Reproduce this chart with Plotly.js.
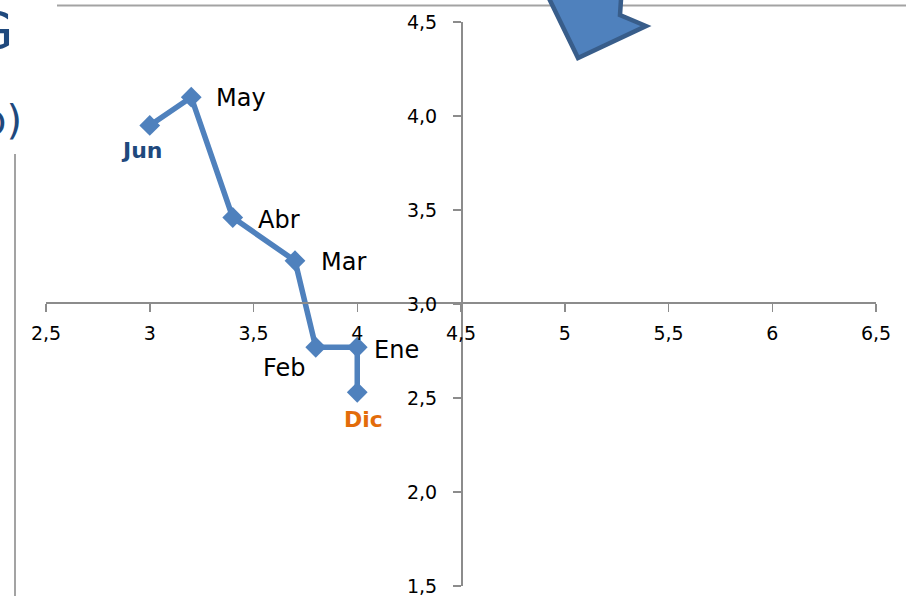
<!DOCTYPE html>
<html>
<head>
<meta charset="utf-8">
<script src="https://cdn.plot.ly/plotly-3.0.1.min.js"></script>
<style>html,body{margin:0;padding:0;background:#fff;overflow:hidden}</style>
</head>
<body>
<div id="chart" style="width:906px;height:596px"></div>
<script>
// Monthly path, December through June
const months = ['Dic', 'Ene', 'Feb', 'Mar', 'Abr', 'May', 'Jun'];
const xValues = [4, 4, 3.8, 3.7, 3.4, 3.2, 3];
const yValues = [2.53, 2.77, 2.77, 3.23, 3.46, 4.1, 3.95];

// Label offsets from each point, in pixels
const labelDx = [6, 39, -31, 48, 46, 50, -8];
const labelDy = [27, 3, 21, 1, 2, 1, 25];
const labelColors = ['#e36c0a', '#000', '#000', '#000', '#000', '#000', '#1f497d'];
const labelBold = [true, false, false, false, false, false, true];

const xTicks = [2.5, 3, 3.5, 4, 4.5, 5, 5.5, 6, 6.5];
const xTickText = ['2,5', '3', '3,5', '4', '4,5', '5', '5,5', '6', '6,5'];
const yTicks = [1.5, 2, 2.5, 3, 3.5, 4, 4.5];
const yTickText = ['1,5', '2,0', '2,5', '3,0', '3,5', '4,0', '4,5'];

// Plot box in page pixels
const box = {l: 46, r: 876, t: 22, b: 586};
const px = v => (v - box.l) / (box.r - box.l);
const py = v => (box.b - v) / (box.b - box.t);

// Surrounding slide furniture: rules, arrow, cropped heading text
const ruleColor = '#a3a3a3';
const arrowOutline = [[542, -16], [578, 58], [646, 26], [620, 15], [622, -16]];
const arrowPath = 'M' + arrowOutline.map(p => px(p[0]) + ',' + py(p[1])).join('L') + 'Z';

const font = 'DejaVu Sans, Verdana, sans-serif';
const axisBase = {
  showgrid: false, zeroline: false, showline: true,
  linecolor: '#8c8c8c', linewidth: 1.5,
  ticks: 'outside', ticklen: 8, tickwidth: 1.5, tickcolor: '#8c8c8c',
  tickmode: 'array', anchor: 'free',
  ticklabeloverflow: 'allow',
  tickfont: {family: font, size: 19, color: '#000'}
};

const annotations = months.map((m, i) => ({
  x: xValues[i], y: yValues[i], xref: 'x', yref: 'y',
  text: labelBold[i] ? '<b>' + m + '</b>' : m,
  showarrow: false, xanchor: 'center', yanchor: 'middle',
  xshift: labelDx[i], yshift: -labelDy[i],
  font: {family: font, size: labelBold[i] ? 22 : 24, color: labelColors[i]}
}));
annotations.push(
  {x: px(15), y: py(31), xref: 'paper', yref: 'paper', text: 'G', showarrow: false,
   xanchor: 'right', yanchor: 'middle', font: {family: font, size: 52, color: '#1f497d'}},
  {x: px(24), y: py(120), xref: 'paper', yref: 'paper', text: 'p)', showarrow: false,
   xanchor: 'right', yanchor: 'middle', font: {family: font, size: 40, color: '#1f497d'}}
);

const layout = {
  width: 906, height: 596,
  margin: {l: box.l, r: 906 - box.r, t: box.t, b: 596 - box.b},
  paper_bgcolor: '#fff', plot_bgcolor: 'rgba(0,0,0,0)',
  showlegend: false,
  xaxis: Object.assign({}, axisBase, {
    range: [2.5, 6.5], tickvals: xTicks, ticktext: xTickText, ticklabelstandoff: 5, position: 0.503
  }),
  yaxis: Object.assign({}, axisBase, {
    range: [1.5, 4.5], tickvals: yTicks, ticktext: yTickText, ticklabelstandoff: 12, position: 0.5
  }),
  shapes: [
    {type: 'line', xref: 'paper', yref: 'paper', x0: px(57), x1: px(906), y0: py(5.5), y1: py(5.5),
     line: {color: ruleColor, width: 2}},
    {type: 'line', xref: 'paper', yref: 'paper', x0: px(15), x1: px(15), y0: py(154), y1: py(600),
     line: {color: ruleColor, width: 2}},
    {type: 'path', xref: 'paper', yref: 'paper', path: arrowPath,
     fillcolor: '#4f81bd', line: {color: '#385d8a', width: 4.5}}
  ],
  annotations
};

const traces = [{
  type: 'scatter', mode: 'lines+markers',
  x: xValues, y: yValues, cliponaxis: false,
  line: {color: '#4f81bd', width: 5.5},
  marker: {symbol: 'diamond', size: 16, color: '#4f81bd'},
  hoverinfo: 'skip'
}];

Plotly.newPlot('chart', traces, layout, {displayModeBar: false, staticPlot: true});
</script>
</body>
</html>
